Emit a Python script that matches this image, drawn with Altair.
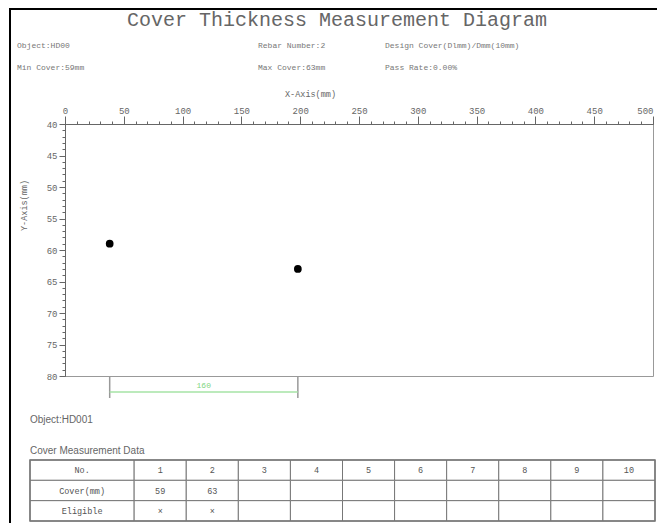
import altair as alt
import pandas as pd

# ---- data ----
x_pos = [38, 198]            # rebar positions along X (mm)
cover = [59, 63]             # cover thickness (mm)
spacing_label = ["160"]      # spacing between the two rebars (mm)
x_major = [0, 50, 100, 150, 200, 250, 300, 350, 400, 450, 500]
x_minor = list(range(0, 501, 10))
y_major = [40, 45, 50, 55, 60, 65, 70, 75, 80]
y_minor = list(range(40, 81, 1))
col_numbers = [1, 2, 3, 4, 5, 6, 7, 8, 9, 10]
row_labels = ["No.", "Cover(mm)", "Eligible"]
eligible = ["×", "×"]
title_text = "Cover Thickness Measurement Diagram"
info_row1 = ["Object:HD00", "Rebar Number:2", "Design Cover(Dlmm)/Dmm(10mm)"]
info_row2 = ["Min Cover:59mm", "Max Cover:63mm", "Pass Rate:0.00%"]
object_text = "Object:HD001"
table_title = "Cover Measurement Data"

# ---- layout (page pixels) ----
OX, OY = 65, 124          # plot-area origin on the page
W, H = 588, 252
MONO = "Liberation Mono"
SANS = "Liberation Sans"
GRAY = "#666666"

pts = pd.DataFrame({"x": x_pos, "cover": cover})
xs = alt.Scale(domain=[0, 500], nice=False, zero=False)
ys = alt.Scale(domain=[40, 80], reverse=True, nice=False, zero=False)

main = alt.Chart(pts).mark_circle(size=60, color="black", opacity=1).encode(
    x=alt.X("x:Q", scale=xs, axis=alt.Axis(
        orient="top", values=x_major, title="X-Axis(mm)", titleX=245, titleY=-31,
        titleFont=MONO, titleFontSize=8.5, titleFontWeight="normal", titleColor=GRAY,
        titleBaseline="middle", titleAlign="center",
        labelFont=MONO, labelFontSize=9, labelColor=GRAY, labelPadding=1,
        labelAlign={"condition": {"test": "datum.value >= 500", "value": "right"}, "value": "center"},
        tickSize=8, tickColor=GRAY, domainColor=GRAY, grid=False, labelFlush=False)),
    y=alt.Y("cover:Q", scale=ys, axis=alt.Axis(
        orient="left", values=y_major, title="Y-Axis(mm)", titleX=-42, titleY=81,
        titleFont=MONO, titleFontSize=8.5, titleFontWeight="normal", titleColor=GRAY,
        titleBaseline="middle", titleAlign="center", titleAngle=270,
        labelFont=MONO, labelFontSize=9, labelColor=GRAY, labelPadding=2,
        tickSize=6, tickColor=GRAY, domainColor=GRAY, grid=False, labelFlush=False)),
)

minor = alt.Chart(pts).mark_point(opacity=0).encode(
    x=alt.X("x:Q", scale=xs, axis=alt.Axis(
        orient="top", values=x_minor, labels=False, domain=False, title="",
        tickSize=3, tickColor=GRAY, grid=False)),
    y=alt.Y("cover:Q", scale=ys, axis=alt.Axis(
        orient="left", values=y_minor, labels=False, domain=False, title="",
        tickSize=3, tickColor=GRAY, grid=False)),
)

# dimension bracket below the plot
dim_ticks = alt.Chart(pts).mark_rule(color="#999999", strokeWidth=1.5).encode(
    x=alt.X("x:Q", scale=xs, axis=None),
    y=alt.value(376 - OY), y2=alt.value(398 - OY),
)
dim_df = pd.DataFrame({"x1": [x_pos[0]], "x2": [x_pos[1]], "lab": spacing_label})
dim_line = alt.Chart(dim_df).mark_rule(color="#a6e3a6", strokeWidth=1.5).encode(
    x=alt.X("x1:Q", scale=xs, axis=None), x2="x2:Q", y=alt.value(392 - OY),
)
dim_text = alt.Chart(dim_df).transform_calculate(xm="(datum.x1 + datum.x2) / 2").mark_text(
    color="#7fd67f", font=MONO, fontSize=8, baseline="middle").encode(
    x=alt.X("xm:Q", scale=xs, axis=None), y=alt.value(386 - OY), text="lab:N",
)

# table
cells = []
for r, lab in enumerate(row_labels):
    cells.append(dict(c0=-2, c1=0, r0=r, r1=r + 1, txt=lab))
    for c in range(1, 11):
        if r == 0:
            t = str(col_numbers[c - 1])
        elif r == 1:
            t = str(cover[c - 1]) if c - 1 < len(cover) else ""
        else:
            t = eligible[c - 1] if c - 1 < len(eligible) else ""
        cells.append(dict(c0=c - 1, c1=c, r0=r, r1=r + 1, txt=t))
tdf = pd.DataFrame(cells)
tdf["cm"] = (tdf["c0"] + tdf["c1"]) / 2
tdf["rm"] = (tdf["r0"] + tdf["r1"]) / 2
TL, TR, TT, TB = 30, 655, 460, 521
tx = alt.Scale(domain=[-2, 10], range=[TL - OX, TR - OX], nice=False, zero=False)
ty = alt.Scale(domain=[0, 3], range=[TT - OY, TB - OY], nice=False, zero=False)
t_rect = alt.Chart(tdf).mark_rect(fill="white", stroke="#777777", strokeWidth=1).encode(
    x=alt.X("c0:Q", scale=tx, axis=None), x2="c1:Q",
    y=alt.Y("r0:Q", scale=ty, axis=None), y2="r1:Q",
)
t_text = alt.Chart(tdf).mark_text(font=MONO, fontSize=8.5, color="#555555", baseline="middle").encode(
    x=alt.X("cm:Q", scale=tx, axis=None),
    y=alt.Y("rm:Q", scale=ty, axis=None), text="txt:N",
)
t_outer = alt.Chart(alt.Data(values=[{}])).mark_rect(fill=None, stroke="#777777", strokeWidth=1.5).encode(
    x=alt.value(TL - OX), x2=alt.value(TR - OX), y=alt.value(TT - OY), y2=alt.value(TB - OY),
)

frame = alt.Chart(alt.Data(values=[{}])).mark_rect(fill=None, stroke="black", strokeWidth=2).encode(
    x=alt.value(10 - OX), x2=alt.value(680 - OX), y=alt.value(9 - OY), y2=alt.value(540 - OY),
)


def label(text, xp, yp, size, font, color, align="left"):
    return alt.Chart(alt.Data(values=[{"t": text}])).mark_text(
        align=align, baseline="middle", font=font, fontSize=size, color=color).encode(
        x=alt.value(xp - OX), y=alt.value(yp - OY), text="t:N")


texts = [label(title_text, 337, 20, 20, MONO, GRAY, "center")]
for t, xp in zip(info_row1, [17, 258, 385]):
    texts.append(label(t, xp, 46, 8, MONO, "#777777"))
for t, xp in zip(info_row2, [17, 258, 385]):
    texts.append(label(t, xp, 68, 8, MONO, "#777777"))
texts.append(label(object_text, 30, 420, 10, SANS, GRAY))
texts.append(label(table_title, 30, 451, 10, SANS, GRAY))

chart = alt.layer(
    frame, main, minor, dim_ticks, dim_line, dim_text, t_rect, t_outer, t_text, *texts
).resolve_scale(x="independent", y="independent").properties(
    width=W, height=H,
    padding={"left": OX - 8, "top": OY - 8, "right": 4, "bottom": 523 - (OY + H)},
    autosize=alt.AutoSizeParams(type="none"),
    background="white",
).configure_view(stroke="#999999", strokeWidth=1)

chart.save("out.html", embed_options={"renderer": "svg", "actions": False})
